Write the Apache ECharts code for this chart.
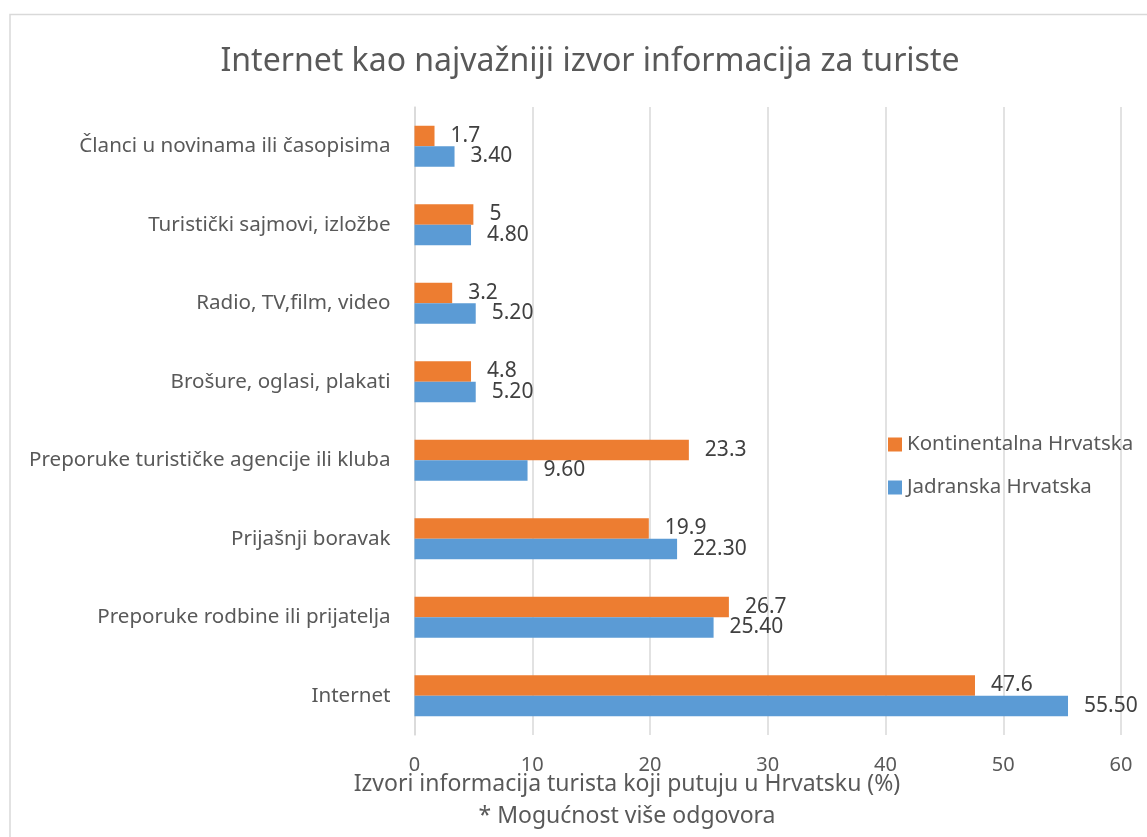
<!DOCTYPE html>
<html>
<head>
<meta charset="utf-8">
<script src="https://cdn.jsdelivr.net/npm/echarts@6/dist/echarts.min.js"></script>
<style>
  html, body { margin: 0; padding: 0; background: #fff; }
  #chart { width: 1147px; height: 837px; }
</style>
</head>
<body>
<div id="chart"></div>
<script>
// kategorije odozdo prema gore (kao u Excelu)
var categories = [
  'Internet',
  'Preporuke rodbine ili prijatelja',
  'Prijašnji boravak',
  'Preporuke turističke agencije ili kluba',
  'Brošure, oglasi, plakati',
  'Radio, TV,film, video',
  'Turistički sajmovi, izložbe',
  'Članci u novinama ili časopisima'
];
var kontinentalna = [47.6, 26.7, 19.9, 23.3, 4.8, 3.2, 5, 1.7];
var jadranska = [55.5, 25.4, 22.3, 9.6, 5.2, 5.2, 4.8, 3.4];
var xTicks = [0, 60, 10];  // min, max, interval

var FONT = '"Noto Sans", sans-serif';

var chart = echarts.init(document.getElementById('chart'));
var option = {
  animation: false,
  textStyle: { fontFamily: FONT },
  title: {
    text: 'Internet kao najvažniji izvor informacija za turiste',
    left: 585,
    top: 41,
    textAlign: 'center',
    textStyle: { fontSize: 32, fontWeight: 'normal', color: '#595959', fontFamily: FONT }
  },
  legend: {
    orient: 'vertical',
    left: 883,
    top: 429,
    itemWidth: 14,
    itemHeight: 14,
    itemGap: 22,
    icon: 'rect',
    textStyle: { fontSize: 20.5, color: '#595959' },
    data: ['Kontinentalna Hrvatska', 'Jadranska Hrvatska']
  },
  grid: { left: 414.5, right: 26, top: 107, bottom: 102 },
  xAxis: {
    type: 'value',
    min: xTicks[0],
    max: xTicks[1],
    interval: xTicks[2],
    axisLine: { show: false },
    axisTick: { show: false },
    axisLabel: { fontSize: 20, color: '#595959', margin: 20 },
    splitLine: { lineStyle: { color: '#D9D9D9', width: 1.5 } }
  },
  yAxis: {
    type: 'category',
    data: categories,
    axisLine: { show: true, lineStyle: { color: '#D9D9D9', width: 1.5 } },
    axisTick: { show: false },
    axisLabel: { fontSize: 20.6, color: '#595959', margin: 24 }
  },
  graphic: [
    {
      type: 'rect',
      shape: { x: 10, y: 14.5, width: 1300, height: 1000 },
      style: { fill: 'none', stroke: '#D9D9D9', lineWidth: 1.5 },
      silent: true
    },
    {
      type: 'text',
      x: 627, y: 784,
      style: { text: 'Izvori informacija turista koji putuju u Hrvatsku (%)', fontSize: 23, fill: '#595959', align: 'center', verticalAlign: 'middle', fontFamily: FONT }
    },
    {
      type: 'text',
      x: 627, y: 816,
      style: { text: '* Mogućnost više odgovora', fontSize: 23, fill: '#595959', align: 'center', verticalAlign: 'middle', fontFamily: FONT }
    }
  ],
  series: [
    {
      name: 'Kontinentalna Hrvatska',
      type: 'bar',
      data: kontinentalna,
      barWidth: 20.5,
      barGap: '0%',
      itemStyle: { color: '#ED7D31' },
      label: {
        show: true, position: 'right', distance: 16, fontSize: 21, color: '#404040',
        formatter: function (p) { return String(p.value); }
      }
    },
    {
      name: 'Jadranska Hrvatska',
      type: 'bar',
      data: jadranska,
      barWidth: 20.5,
      barGap: '0%',
      itemStyle: { color: '#5B9BD5' },
      label: {
        show: true, position: 'right', distance: 16, fontSize: 21, color: '#404040',
        formatter: function (p) { return p.value.toFixed(2); }
      }
    }
  ]
};
chart.setOption(option);
</script>
</body>
</html>
